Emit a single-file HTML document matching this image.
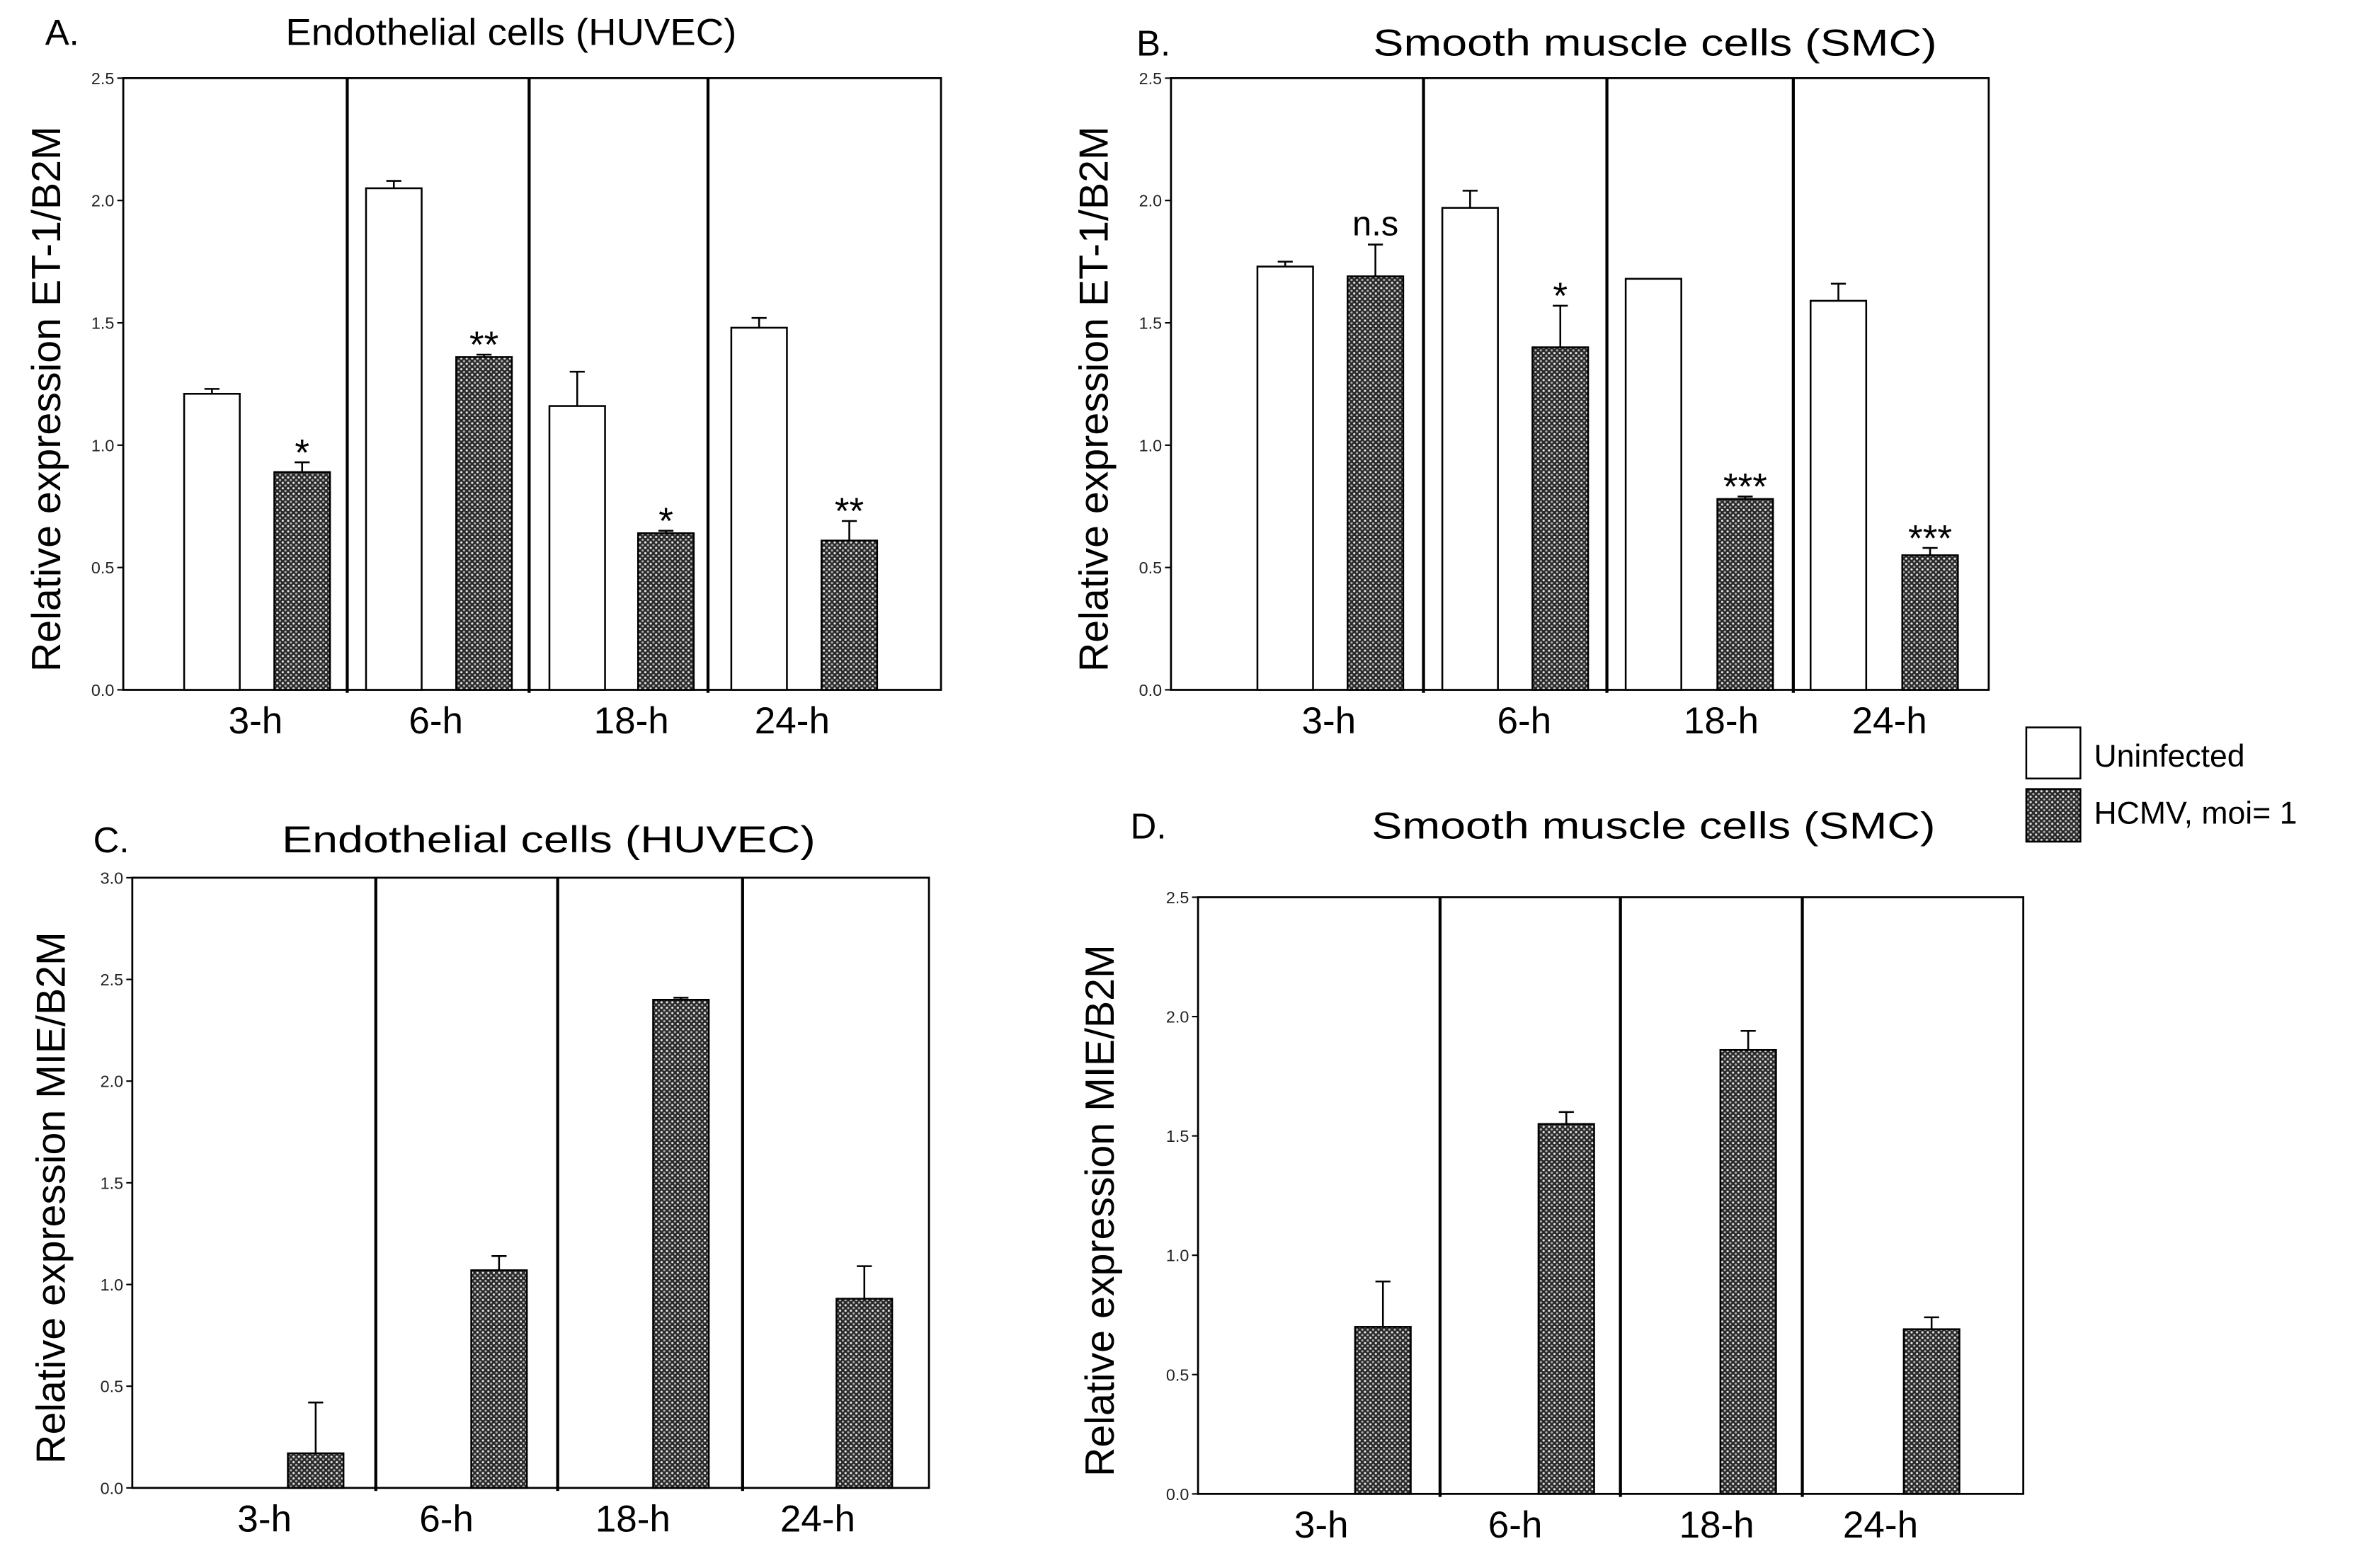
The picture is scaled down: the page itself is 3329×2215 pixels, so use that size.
<!DOCTYPE html>
<html><head><meta charset="utf-8"><style>
html,body{margin:0;padding:0;background:#fff;}
svg{display:block;font-family:"Liberation Sans",sans-serif;}
</style></head><body>
<svg id="fig" width="3329" height="2215" viewBox="0 0 1568 1043.3" xmlns="http://www.w3.org/2000/svg">
<defs>
<pattern id="hatch" width="3.6" height="3.6" patternUnits="userSpaceOnUse">
<rect width="3.6" height="3.6" fill="#2a2a2a"/>
<circle cx="0.9" cy="0.9" r="0.75" fill="#e8e8e8"/>
<circle cx="2.7" cy="2.7" r="0.75" fill="#b0b0b0"/>
</pattern>
</defs>
<g id="legend">
<rect x="1348" y="484" width="36" height="34" fill="#fff" stroke="#000" stroke-width="1.2"/>
<text x="1393" y="510" font-size="21">Uninfected</text>
<rect x="1348" y="525" width="36" height="35" fill="url(#hatch)" stroke="#000" stroke-width="1.2"/>
<text x="1393" y="548" font-size="21">HCMV, moi= 1</text>
</g>
</svg>
<script>
const categories = ["3-h","6-h","18-h","24-h"];
const aUninf = [1.21,2.05,1.16,1.48];
const aUninfErr = [0.02,0.03,0.14,0.04];
const aHcmv = [0.89,1.36,0.64,0.61];
const aHcmvErr = [0.04,0.01,0.01,0.08];
const aSig = ["*","**","*","**"];
const bUninf = [1.73,1.97,1.68,1.59];
const bUninfErr = [0.02,0.07,0,0.07];
const bHcmv = [1.69,1.40,0.78,0.55];
const bHcmvErr = [0.13,0.17,0.01,0.03];
const bSig = ["n.s","*","***","***"];
const cHcmv = [0.17,1.07,2.40,0.93];
const cHcmvErr = [0.25,0.07,0.01,0.16];
const dHcmv = [0.70,1.55,1.86,0.69];
const dHcmvErr = [0.19,0.05,0.08,0.05];
const ticks25 = ["0.0","0.5","1.0","1.5","2.0","2.5"];
const ticks30 = ["0.0","0.5","1.0","1.5","2.0","2.5","3.0"];

const NS="http://www.w3.org/2000/svg";
const svg=document.getElementById('fig');
function el(tag,attrs,parent,txt){const e=document.createElementNS(NS,tag);for(const k in attrs)e.setAttribute(k,attrs[k]);if(txt!==undefined)e.textContent=txt;(parent||svg).appendChild(e);return e;}

function panel(o){
  const g=el('g',{});
  
  
  const ystep=0.5;
  const top=(o.ticks.length-1)*ystep;
  const y=v=>o.bottom-(v/top)*(o.bottom-o.top);
  // band layout (pixel layout, not data)
  const bounds=o.bounds;
  const bandX=(i,f)=>bounds[i]+(bounds[i+1]-bounds[i])*f;
  const fr=el('rect',{x:o.left,y:o.top,width:o.right-o.left,height:o.bottom-o.top,fill:'none',stroke:'#000','stroke-width':1.3},g);
  
  
  for(let i=1;i<categories.length;i++){
    const l=el('line',{x1:bounds[i],x2:bounds[i],y1:o.top,y2:o.bottom+2,stroke:'#000','stroke-width':2},g);
    
    
  }
  o.ticks.forEach((t,i)=>{
    const tm=el('line',{x1:o.left-4,x2:o.left,y1:y(i*ystep),y2:y(i*ystep),stroke:'#000','stroke-width':1},g);
    
    
    const tx=el('text',{x:o.left-6,y:y(i*ystep)+4,'font-size':11,'text-anchor':'end',fill:'#222'},g,t);
    
    
  });
  categories.forEach((c,i)=>{
    const tx=el('text',{x:bandX(i,o.lOff[i]),y:o.bottom+29,'font-size':25,'text-anchor':'middle'},g,c);
    
    
  });
  const bwid=37;
  function bar(v,e,cx,fill,nm,sig){
    const r=el('rect',{x:cx-bwid/2,y:y(v),width:bwid,height:o.bottom-y(v),fill:fill,stroke:'#000','stroke-width':1.2},g);
    
    
    if(e>0){
      const p=el('path',{d:`M${cx},${y(v)}V${y(v+e)}M${cx-5},${y(v+e)}H${cx+5}`,stroke:'#000','stroke-width':1.2,fill:'none'},g);
      
      
    }
    if(sig){
      const ns=sig==='n.s';
      const s=el('text',{x:cx,y:y(v+e)+(ns?-6:2),'font-size':ns?23:25,'text-anchor':'middle'},g,sig);
      
      
    }
  }
  categories.forEach((c,i)=>{
    if(o.uninf) bar(o.uninf[i],o.uninfErr[i],bandX(i,o.wOff[i]),'#fff','bar-uninfected-'+c);
    bar(o.hcmv[i],o.hcmvErr[i],bandX(i,o.hOff[i]),'url(#hatch)','bar-hcmv-'+c,o.sig?o.sig[i]:null);
  });
  const lt=el('text',{x:o.lx,y:o.ty,'font-size':24},g,o.letter);
  
  
  const tt=el('text',{x:o.tx,y:o.ty,'font-size':25,'text-anchor':'middle',textLength:o.tw,lengthAdjust:'spacingAndGlyphs'},g,o.title);
  
  
  const cy=(o.top+o.bottom)/2+10;
  const yl=el('text',{x:o.ylx,y:cy,'font-size':27,'text-anchor':'middle',transform:`rotate(-90 ${o.ylx} ${cy})`},g,o.ylabel);
  
  
}
function offs(b,cs){return cs.map((c,i)=>(c-b[i])/(b[i+1]-b[i]));}
const bA=[82,231,352,471,626], bB=[779,947,1069,1193,1323], bC=[88,250,371,494,618], bD=[797,958,1078,1199,1346];
panel({name:'panel-a',left:82,right:626,top:52,bottom:459,bounds:bA,ticks:ticks25,uninf:aUninf,uninfErr:aUninfErr,hcmv:aHcmv,hcmvErr:aHcmvErr,sig:aSig,
  wOff:offs(bA,[141,262,384,505]),hOff:offs(bA,[201,322,443,565]),lOff:offs(bA,[170,290,420,527]),letter:'A.',lx:30,tx:340,ty:30,tw:300,title:'Endothelial cells (HUVEC)',ylabel:'Relative expression ET-1/B2M',ylx:40});
panel({name:'panel-b',left:779,right:1323,top:52,bottom:459,bounds:bB,ticks:ticks25,uninf:bUninf,uninfErr:bUninfErr,hcmv:bHcmv,hcmvErr:bHcmvErr,sig:bSig,
  wOff:offs(bB,[855,978,1100,1223]),hOff:offs(bB,[915,1038,1161,1284]),lOff:offs(bB,[884,1014,1145,1257]),letter:'B.',lx:756,tx:1101,ty:37,tw:375,title:'Smooth muscle cells (SMC)',ylabel:'Relative expression ET-1/B2M',ylx:737});
panel({name:'panel-c',left:88,right:618,top:584,bottom:990,bounds:bC,ticks:ticks30,hcmv:cHcmv,hcmvErr:cHcmvErr,
  wOff:[0,0,0,0],hOff:offs(bC,[210,332,453,575]),lOff:offs(bC,[176,297,421,544]),letter:'C.',lx:62,tx:365,ty:567,tw:355,title:'Endothelial cells (HUVEC)',ylabel:'Relative expression MIE/B2M',ylx:43});
panel({name:'panel-d',left:797,right:1346,top:597,bottom:994,bounds:bD,ticks:ticks25,hcmv:dHcmv,hcmvErr:dHcmvErr,
  wOff:[0,0,0,0],hOff:offs(bD,[920,1042,1163,1285]),lOff:offs(bD,[879,1008,1142,1251]),letter:'D.',lx:752,tx:1100,ty:558,tw:375,title:'Smooth muscle cells (SMC)',ylabel:'Relative expression MIE/B2M',ylx:741});
</script>
</body></html>
